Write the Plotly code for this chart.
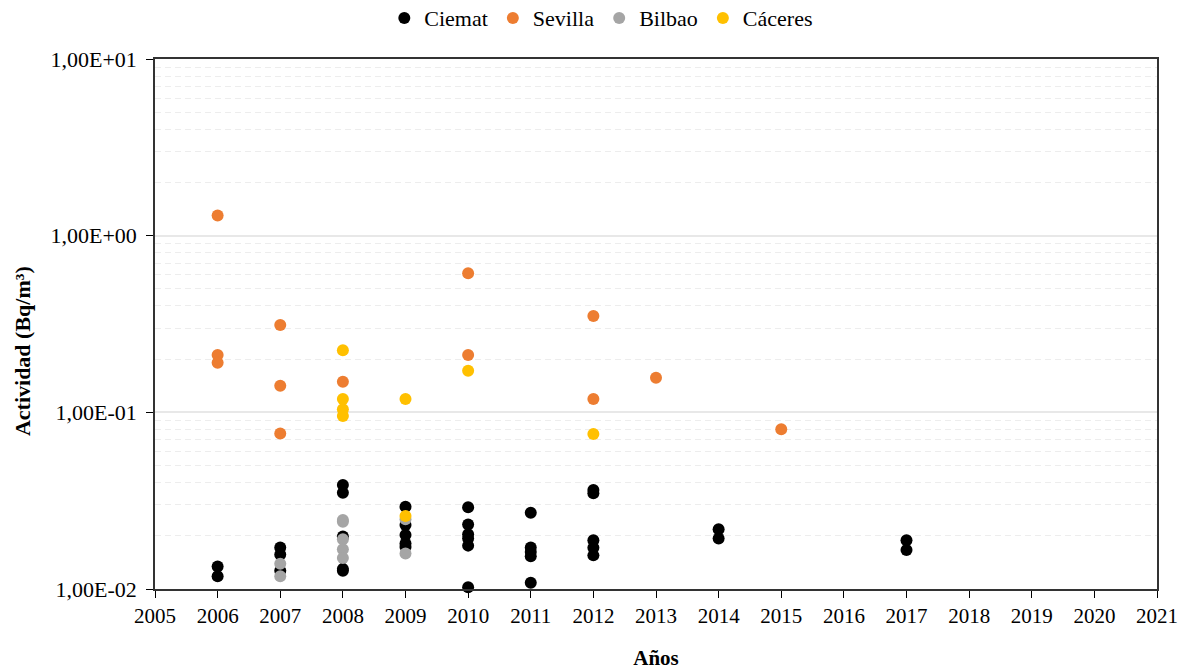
import plotly.graph_objects as go

# Actividad medida (Bq/m³) por año y laboratorio
ciemat_years = [2006, 2006,
                2007, 2007, 2007,
                2008, 2008, 2008, 2008, 2008,
                2009, 2009, 2009, 2009, 2009,
                2010, 2010, 2010, 2010, 2010, 2010,
                2011, 2011, 2011, 2011, 2011,
                2012, 2012, 2012, 2012, 2012,
                2014, 2014,
                2017, 2017]
ciemat_vals = [0.0134, 0.0118,
               0.0172, 0.0157, 0.0127,
               0.0388, 0.0351, 0.0198, 0.0130, 0.0127,
               0.0292, 0.0230, 0.0202, 0.0181, 0.0173,
               0.0290, 0.0232, 0.0204, 0.0193, 0.0176, 0.01023,
               0.0270, 0.0172, 0.0162, 0.0153, 0.01086,
               0.0363, 0.0348, 0.0189, 0.0171, 0.0155,
               0.0218, 0.0193,
               0.0189, 0.0166]

sevilla_years = [2006, 2006, 2006, 2007, 2007, 2007, 2008,
                 2010, 2010, 2012, 2012, 2013, 2015]
sevilla_vals = [1.30, 0.211, 0.191, 0.312, 0.1415, 0.0760, 0.149,
                0.612, 0.211, 0.351, 0.119, 0.157, 0.0801]

bilbao_years = [2007, 2007, 2008, 2008, 2008, 2008, 2008, 2009, 2009]
bilbao_vals = [0.0139, 0.0118, 0.0246, 0.0240, 0.0191, 0.0168, 0.0150,
               0.0248, 0.0159]

caceres_years = [2008, 2008, 2008, 2008, 2009, 2009, 2010, 2012]
caceres_vals = [0.2245, 0.119, 0.104, 0.0953, 0.119, 0.0259, 0.172, 0.0754]

x_ticks = list(range(2005, 2022))
y_ticks = [0.01, 0.1, 1, 10]
y_ticktext = ["1,00E-02", "1,00E-01", "1,00E+00", "1,00E+01"]

series = [
    ("Ciemat", ciemat_years, ciemat_vals, "#000000"),
    ("Sevilla", sevilla_years, sevilla_vals, "#ED7D31"),
    ("Bilbao", bilbao_years, bilbao_vals, "#A5A5A5"),
    ("Cáceres", caceres_years, caceres_vals, "#FFC000"),
]

FONT = "Liberation Serif, Times New Roman, serif"

fig = go.Figure()
for name, xs, ys, color in series:
    fig.add_trace(go.Scatter(
        x=xs, y=ys, name=name, mode="markers",
        marker=dict(color=color, size=12, line=dict(width=0)),
        cliponaxis=False,
    ))

fig.update_layout(
    width=1186, height=670,
    margin=dict(l=155, r=29, t=59, b=81, autoexpand=False),
    paper_bgcolor="white", plot_bgcolor="white",
    font=dict(family=FONT, size=21, color="black"),
    showlegend=True,
    legend=dict(orientation="h", xref="container", x=0.507, xanchor="center",
                yref="container", y=0.973, yanchor="middle",
                font=dict(size=22), itemwidth=30, tracegroupgap=0,
                bgcolor="rgba(0,0,0,0)"),
)

fig.update_xaxes(
    range=[2005, 2021], tickmode="array", tickvals=x_ticks,
    ticks="outside", ticklen=7, tickcolor="black", tickwidth=1,
    showline=True, linecolor="#333333", linewidth=1.5, mirror=True,
    showgrid=False, zeroline=False, automargin=False,
    tickfont=dict(size=21),
    title=dict(text="<b>Años</b>", font=dict(size=21), standoff=26),
)
fig.update_yaxes(
    type="log", range=[-2, 1],
    tickmode="array", tickvals=y_ticks, ticktext=y_ticktext,
    ticks="outside", ticklen=7, tickcolor="black", tickwidth=1,
    ticklabelstandoff=5,
    showline=True, linecolor="#333333", linewidth=1.5, mirror=True,
    showgrid=True, gridcolor="#E8E8E8", gridwidth=1.5,
    zeroline=False, automargin=False,
    minor=dict(showgrid=True, gridcolor="#EDEDED", griddash="6px,4px",
               gridwidth=1, dtick="D1", ticks=""),
    tickfont=dict(size=22),
)

# Vertical axis title, placed slightly below the plot's mid-height
fig.add_annotation(
    text="<b>Actividad (Bq/m³)</b>", textangle=-90,
    xref="paper", yref="paper", x=-0.1327, y=0.449,
    xanchor="center", yanchor="middle", showarrow=False,
    font=dict(family=FONT, size=22, color="black"),
)

fig.write_html("out.html")
